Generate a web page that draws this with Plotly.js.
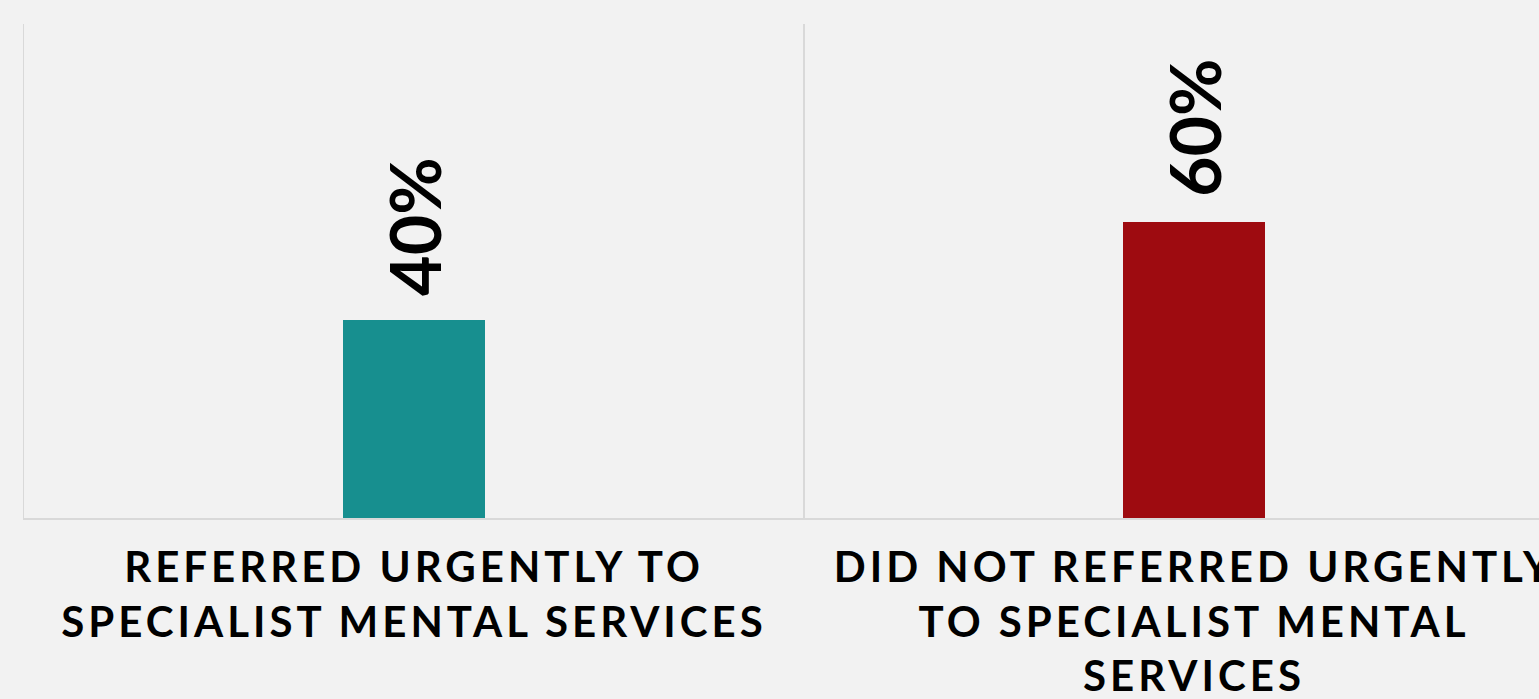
<!DOCTYPE html>
<html>
<head>
<meta charset="utf-8">
<script src="https://cdn.plot.ly/plotly-3.0.1.min.js"></script>
<style>
html, body { margin: 0; padding: 0; background: #f2f2f2; overflow: hidden; }
#chart { width: 1539px; height: 699px; }
.xtick text { letter-spacing: 4px; }
</style>
</head>
<body>
<div id="chart"></div>
<script>
const categories = [
  "REFERRED URGENTLY TO<br>SPECIALIST MENTAL SERVICES",
  "DID NOT REFERRED URGENTLY<br>TO SPECIALIST MENTAL<br>SERVICES"
];
const values = [40, 60];
const valueLabels = ["40%", "60%"];
const barColors = ["#178f8f", "#9e0b10"];

const trace = {
  type: "bar",
  x: categories,
  y: values,
  marker: { color: barColors, line: { width: 0 } },
  width: 0.183,
  hoverinfo: "none"
};

const annotations = categories.map((c, i) => ({
  x: c, y: values[i], xref: "x", yref: "y",
  text: valueLabels[i],
  showarrow: false,
  textangle: -90,
  yanchor: "bottom",
  yshift: 22,
  font: { family: "Lato, 'DejaVu Sans', sans-serif", size: 70, color: "#000", weight: "bold" }
}));

const layout = {
  width: 1539,
  height: 699,
  paper_bgcolor: "#f2f2f2",
  plot_bgcolor: "#f2f2f2",
  margin: { l: 24, r: 0, t: 24, b: 181 },
  showlegend: false,
  bargap: 0,
  xaxis: {
    type: "category",
    range: [-0.5, 1.4423],
    tickson: "boundaries",
    showgrid: true,
    gridcolor: "#d9d9d9",
    gridwidth: 1.5,
    showline: true,
    linecolor: "#d9d9d9",
    linewidth: 1.5,
    ticks: "",
    ticklabelstandoff: 12,
    zeroline: false,
    tickfont: { family: "Lato, 'DejaVu Sans', sans-serif", size: 42, color: "#000", weight: "bold" },
    tickangle: 0,
    fixedrange: true
  },
  yaxis: {
    range: [0, 100],
    showgrid: false,
    zeroline: false,
    showline: true,
    linecolor: "#d9d9d9",
    linewidth: 1.5,
    showticklabels: false,
    ticks: "",
    fixedrange: true
  },
  annotations: annotations
};

Plotly.newPlot("chart", [trace], layout, { displayModeBar: false, staticPlot: true });
</script>
</body>
</html>
